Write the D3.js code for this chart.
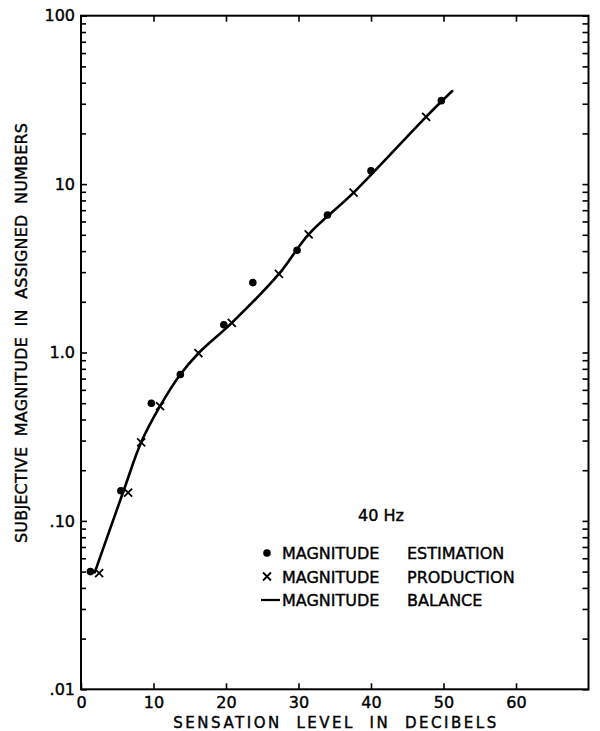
<!DOCTYPE html>
<html>
<head>
<meta charset="utf-8">
<script src="https://cdn.jsdelivr.net/npm/d3@7"></script>
<style>
  html, body { margin: 0; padding: 0; background: #fff; }
  svg { display: block; font-family: "DejaVu Sans", sans-serif; }
  .tick line { stroke: #000; stroke-width: 1.6; }
  text { fill: #000; stroke: #000; stroke-width: 0.4; }
</style>
</head>
<body>
<svg id="chart" width="600" height="731"></svg>
<script>
// Magnitude estimation (dots): sensation level in dB vs assigned number
const estimationDb    = [1.3, 5.5, 9.7, 13.7, 19.7, 23.7, 29.8, 34.0, 40.0, 49.7];
const estimationValue = [0.050, 0.151, 0.50, 0.74, 1.46, 2.6, 4.05, 6.55, 12.0, 31.3];

// Magnitude production (crosses)
const productionDb    = [2.5, 6.5, 8.3, 10.9, 16.2, 20.8, 27.3, 31.4, 37.6, 47.6];
const productionValue = [0.049, 0.147, 0.293, 0.48, 0.99, 1.50, 2.93, 5.03, 8.9, 25.1];

// Magnitude balance (solid curve)
const balanceDb    = [1.9, 5.9, 8.3, 10.9, 13.7, 16.2, 20.8, 27.3, 31.4, 37.6, 47.6, 51.2];
const balanceValue = [0.0495, 0.152, 0.293, 0.48, 0.74, 0.99, 1.50, 2.93, 5.03, 8.9, 25.1, 35.7];

// Axis ticks and labels
const xTickValues = [0, 10, 20, 30, 40, 50, 60];
const xTickLabels = ["0", "10", "20", "30", "40", "50", "60"];
const yTickValues = [0.01, 0.1, 1, 10, 100];
const yTickLabels = [".01", ".10", "1.0", "10", "100"];
const yMinorValues = [];
[0.01, 0.1, 1, 10].forEach(d => { for (let k = 2; k <= 9; k++) yMinorValues.push(+(d * k).toPrecision(3)); });

const legendItems = [
  { kind: "dot",  words: ["MAGNITUDE", "ESTIMATION"] },
  { kind: "x",    words: ["MAGNITUDE", "PRODUCTION"] },
  { kind: "line", words: ["MAGNITUDE", "BALANCE"] }
];
const annotation = "40 Hz";
const xTitle = "SENSATION  LEVEL  IN  DECIBELS";
const yTitle = "SUBJECTIVE  MAGNITUDE  IN  ASSIGNED  NUMBERS";

const svg = d3.select("#chart");
const plotLeft = 81, plotRight = 588.5, plotTop = 15.7, plotBottom = 689.3;

const x = d3.scaleLinear().domain([0, 70]).range([plotLeft, plotRight]);
const y = d3.scaleLog().domain([0.01, 100]).range([plotBottom, plotTop]);

const ink = "#000";

// Tick marks (all pointing inward)
function styleAxis(g) { g.select(".domain").remove(); }

svg.append("g").attr("transform", `translate(${plotLeft},0)`)
  .call(d3.axisLeft(y).tickValues(yTickValues).tickSize(-6).tickPadding(6)
    .tickFormat((d, i) => yTickLabels[i]))
  .call(styleAxis)
  .call(g => g.selectAll("text").attr("font-size", 16).attr("font-family", "DejaVu Sans"));

svg.append("g").attr("transform", `translate(${plotLeft},0)`)
  .call(d3.axisLeft(y).tickValues(yMinorValues).tickSize(-5).tickFormat(""))
  .call(styleAxis);

svg.append("g").attr("transform", `translate(${plotRight},0)`)
  .call(d3.axisRight(y).tickValues(yTickValues.concat(yMinorValues)).tickSize(-6).tickFormat(""))
  .call(styleAxis);

svg.append("g").attr("transform", `translate(0,${plotBottom})`)
  .call(d3.axisBottom(x).tickValues(xTickValues).tickSize(-6).tickPadding(7)
    .tickFormat((d, i) => xTickLabels[i]))
  .call(styleAxis)
  .call(g => g.selectAll("text").attr("font-size", 16).attr("font-family", "DejaVu Sans"));

svg.append("g").attr("transform", `translate(0,${plotTop})`)
  .call(d3.axisTop(x).tickValues(xTickValues.slice(1)).tickSize(-6).tickFormat(""))
  .call(styleAxis);

// Frame
svg.append("rect")
  .attr("x", plotLeft).attr("y", plotTop)
  .attr("width", plotRight - plotLeft).attr("height", plotBottom - plotTop)
  .attr("fill", "none").attr("stroke", ink).attr("stroke-width", 2);

// Balance curve
const balance = balanceDb.map((d, i) => [d, balanceValue[i]]);
svg.append("path")
  .datum(balance)
  .attr("fill", "none").attr("stroke", ink).attr("stroke-width", 2.6)
  .attr("stroke-linecap", "round")
  .attr("d", d3.line().x(d => x(d[0])).y(d => y(d[1])).curve(d3.curveCatmullRom.alpha(0.5)));

// Estimation dots
svg.append("g").selectAll("circle")
  .data(estimationDb.map((d, i) => [d, estimationValue[i]]))
  .join("circle")
  .attr("cx", d => x(d[0])).attr("cy", d => y(d[1])).attr("r", 3.8).attr("fill", ink);

// Production crosses
const cross = (cx, cy, s) => `M${cx - s},${cy - s}L${cx + s},${cy + s}M${cx - s},${cy + s}L${cx + s},${cy - s}`;
svg.append("g").selectAll("path")
  .data(productionDb.map((d, i) => [d, productionValue[i]]))
  .join("path")
  .attr("d", d => cross(x(d[0]), y(d[1]), 4))
  .attr("stroke", ink).attr("stroke-width", 1.8).attr("fill", "none");

// Annotation and legend
svg.append("text").attr("x", 358).attr("y", 521)
  .attr("font-size", 16).text(annotation);

const legend = svg.append("g");
legendItems.forEach((item, i) => {
  const cy = 553 + i * 23.5;
  const g = legend.append("g");
  if (item.kind === "dot") {
    g.append("circle").attr("cx", 267).attr("cy", cy).attr("r", 3.8).attr("fill", ink);
  } else if (item.kind === "x") {
    g.append("path").attr("d", cross(267, cy, 4)).attr("stroke", ink).attr("stroke-width", 1.8);
  } else {
    g.append("line").attr("x1", 261).attr("x2", 280).attr("y1", cy).attr("y2", cy)
      .attr("stroke", ink).attr("stroke-width", 2.2);
  }
  g.append("text").attr("x", 282).attr("y", cy + 6).attr("font-size", 16).text(item.words[0]);
  g.append("text").attr("x", 407).attr("y", cy + 6).attr("font-size", 16).text(item.words[1]);
});

// Axis titles
svg.append("text")
  .attr("x", (plotLeft + plotRight) / 2).attr("y", 727.5)
  .attr("text-anchor", "middle").attr("font-size", 15)
  .attr("textLength", 323).attr("lengthAdjust", "spacing")
  .style("white-space", "pre").text(xTitle);

svg.append("text")
  .attr("transform", "translate(27,333) rotate(-90)")
  .attr("text-anchor", "middle").attr("font-size", 16)
  .attr("textLength", 420).attr("lengthAdjust", "spacing")
  .style("white-space", "pre").text(yTitle);
</script>
</body>
</html>
